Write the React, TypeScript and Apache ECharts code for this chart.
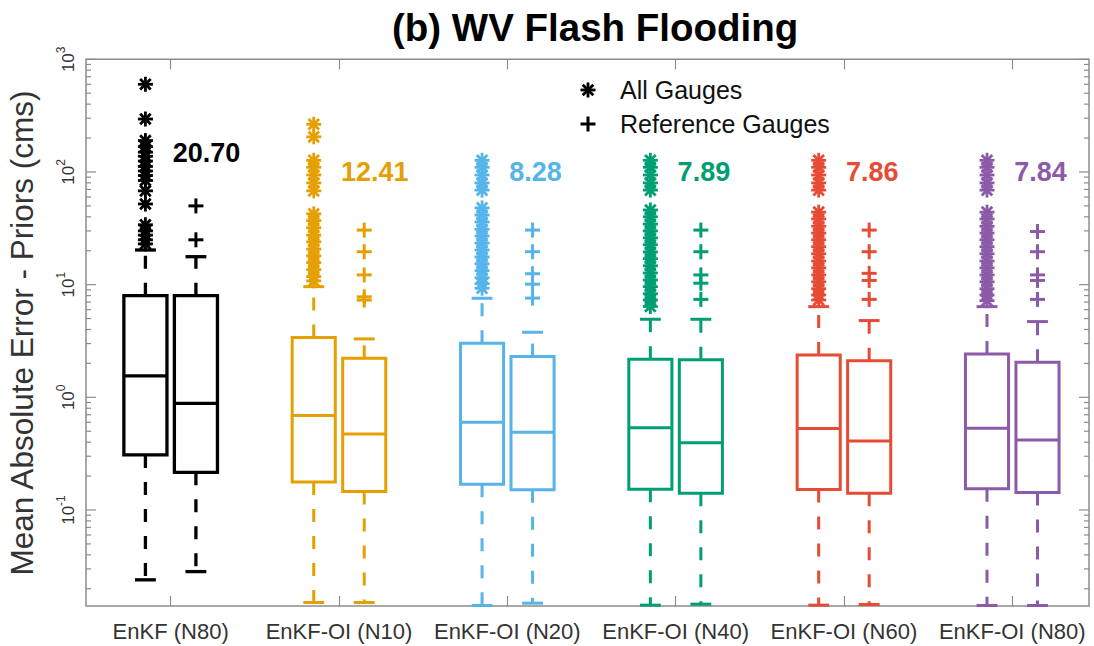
import React, { useEffect, useRef } from 'react';
import * as echarts from 'echarts';

// ---------------- data ----------------
const categories = ['EnKF (N80)', 'EnKF-OI (N10)', 'EnKF-OI (N20)', 'EnKF-OI (N40)', 'EnKF-OI (N60)', 'EnKF-OI (N80)'];
const groupColors = ['#000000', '#E69F00', '#56B4E9', '#009E73', '#E64B35', '#8B5AA8'];
const meanLabels = ['20.70', '12.41', '8.28', '7.89', '7.86', '7.84'];
const meanLabelY = [147, 100, 100, 100, 100, 100];

// [lower whisker, Q1, median, Q3, upper whisker]
const allGaugesBoxes = [
  [0.024, 0.308, 1.55, 7.98, 20.3],
  [0.0151, 0.177, 0.689, 3.39, 9.6],
  [0.0142, 0.169, 0.601, 3.02, 7.57],
  [0.0143, 0.153, 0.538, 2.18, 4.93],
  [0.0143, 0.152, 0.53, 2.38, 6.38],
  [0.0142, 0.154, 0.532, 2.43, 6.38],
];
const refGaugesBoxes = [
  [0.0284, 0.216, 0.885, 7.98, 17.7],
  [0.0151, 0.1456, 0.473, 2.22, 3.3],
  [0.0149, 0.151, 0.49, 2.3, 3.78],
  [0.0146, 0.141, 0.396, 2.15, 4.93],
  [0.0145, 0.141, 0.41, 2.11, 4.8],
  [0.0142, 0.143, 0.419, 2.05, 4.7],
];
const allGaugesOutliers = [
  [600, 295, 190, 168, 150, 138, 125, 112, 102, 93, 84, 68, 52, 34, 30, 27.5, 25, 23],
  [265, 205, 127, 110, 94, 80, 68, 42.5, 37, 32, 27.5, 24, 20.7, 18, 15.7, 13.6, 11.8, 10.8],
  [127, 110, 94, 80, 69, 48, 41.5, 36, 31, 27, 23.4, 20.3, 17.6, 15.3, 13.3, 11.5, 10.2, 9.3],
  [127, 110, 94, 80, 69, 46, 40, 34.5, 30, 26, 22.6, 19.5, 17, 14.7, 12.7, 11, 9.6, 8.3, 7.3, 6.4],
  [127, 110, 94, 80, 69, 44, 38.3, 33, 28.7, 25, 21.7, 18.8, 16.2, 14.1, 12.2, 10.6, 9.2, 8.1, 7.3],
  [127, 110, 94, 80, 69, 44, 38.3, 33, 28.7, 25, 21.7, 18.8, 16.2, 14.1, 12.2, 10.6, 9.2, 8.1, 7.2],
];
const refGaugesOutliers = [
  [50, 25],
  [30.5, 19.6, 12.2, 7.8, 7.3],
  [30.5, 19.6, 12.5, 10.1, 7.6],
  [30.5, 19.6, 12.2, 10.3, 7.4],
  [30.5, 19.6, 12.6, 10.9, 7.4],
  [29.6, 19.6, 12.2, 10.9, 7.4],
];
const yMajorExponents = [-1, 0, 1, 2, 3];
const yMinorMultipliers = [2, 3, 4, 5, 6, 7, 8, 9];
const yMinorExponents = [-2, -1, 0, 1, 2];
const legendNames = ['All Gauges', 'Reference Gauges'];
const titleText = '(b) WV Flash Flooding';
const yAxisTitle = 'Mean Absolute Error - Priors (cms)';

// ---------------- layout / style ----------------
const FONT = '"Liberation Sans", Arial, Helvetica, sans-serif';
const X_MIN = 0.497;
const X_MAX = 6.456;
const Y_MIN = 0.01406;
const Y_MAX = 1000;
const GROUP_OFFSET = 0.15;
const BOX_HALF = 0.128;
const CAP_HALF = 0.062;
const AXIS_COLOR = '#8c8c8c';
const TEXT_COLOR = '#333333';

function asterisk(cx: number, cy: number, r: number, color: string, lw: number) {
  const d = r * Math.SQRT1_2;
  const st = { stroke: color, lineWidth: lw, fill: 'none' };
  return {
    type: 'group',
    children: [
      { type: 'line', shape: { x1: cx - r, y1: cy, x2: cx + r, y2: cy }, style: st },
      { type: 'line', shape: { x1: cx, y1: cy - r, x2: cx, y2: cy + r }, style: st },
      { type: 'line', shape: { x1: cx - d, y1: cy - d, x2: cx + d, y2: cy + d }, style: st },
      { type: 'line', shape: { x1: cx - d, y1: cy + d, x2: cx + d, y2: cy - d }, style: st },
    ],
  };
}
function plus(cx: number, cy: number, r: number, color: string, lw: number) {
  const st = { stroke: color, lineWidth: lw, fill: 'none' };
  return {
    type: 'group',
    children: [
      { type: 'line', shape: { x1: cx - r, y1: cy, x2: cx + r, y2: cy }, style: st },
      { type: 'line', shape: { x1: cx, y1: cy - r, x2: cx, y2: cy + r }, style: st },
    ],
  };
}

function boxRender(params: any, api: any) {
  const x = api.value(0);
  const low = api.value(1), q1 = api.value(2), med = api.value(3), q3 = api.value(4), high = api.value(5);
  const gi = api.value(6);
  const color = groupColors[gi];
  const tl = api.coord([x - BOX_HALF, q3]);
  const br = api.coord([x + BOX_HALF, q1]);
  const cx = api.coord([x, q3])[0];
  const capL = api.coord([x - CAP_HALF, high])[0];
  const capR = api.coord([x + CAP_HALF, high])[0];
  const yMed = api.coord([x, med])[1];
  const yLow = api.coord([x, low])[1];
  const yHigh = api.coord([x, high])[1];
  const lw = gi === 0 ? 3.3 : 3;
  const st = { stroke: color, lineWidth: lw, fill: 'none' };
  const dash = { stroke: color, lineWidth: lw, fill: 'none', lineDash: [13, 14] };
  return {
    type: 'group',
    children: [
      { type: 'line', shape: { x1: cx, y1: tl[1], x2: cx, y2: yHigh }, style: dash },
      { type: 'line', shape: { x1: cx, y1: br[1], x2: cx, y2: yLow }, style: dash },
      { type: 'line', shape: { x1: capL, y1: yHigh, x2: capR, y2: yHigh }, style: st },
      { type: 'line', shape: { x1: capL, y1: yLow, x2: capR, y2: yLow }, style: st },
      { type: 'rect', shape: { x: tl[0], y: tl[1], width: br[0] - tl[0], height: br[1] - tl[1] }, style: st },
      { type: 'line', shape: { x1: tl[0], y1: yMed, x2: br[0], y2: yMed }, style: st },
    ],
  };
}

function starRender(params: any, api: any) {
  const p = api.coord([api.value(0), api.value(1)]);
  return asterisk(p[0], p[1], 7.5, groupColors[api.value(2)], 2.8);
}
function plusRender(params: any, api: any) {
  const p = api.coord([api.value(0), api.value(1)]);
  return plus(p[0], p[1], 7.5, groupColors[api.value(2)], 3);
}
function meanLabelRender(params: any, api: any) {
  const i = params.dataIndex;
  const p = api.coord([api.value(0), api.value(1)]);
  return {
    type: 'text',
    x: p[0] + 2,
    y: p[1],
    style: {
      text: meanLabels[i],
      fill: groupColors[i],
      font: `bold 27px ${FONT}`,
      align: 'left', textAlign: 'left',
      verticalAlign: 'middle', textVerticalAlign: 'middle',
    },
  };
}
function yTickRender(params: any, api: any) {
  const v = api.value(1);
  const major = api.value(2) === 1;
  const pl = api.coord([X_MIN, v]);
  const pr = api.coord([X_MAX, v]);
  const len = major ? 10 : 5;
  const st = { stroke: AXIS_COLOR, lineWidth: 1.2 };
  return {
    type: 'group',
    children: [
      { type: 'line', shape: { x1: pl[0], y1: pl[1], x2: pl[0] + len, y2: pl[1] }, style: st },
      { type: 'line', shape: { x1: pr[0] - len, y1: pr[1], x2: pr[0], y2: pr[1] }, style: st },
    ],
  };
}

function yLabelFormatter(v: number) {
  const lg = Math.log10(v);
  const e = Math.round(lg);
  if (Math.abs(lg - e) > 1e-6 || !yMajorExponents.includes(e)) return '';
  return `{b|10}{s|${e}}`;
}

export default function App() {
  const ref = useRef<HTMLDivElement>(null);
  useEffect(() => {
    if (!ref.current) return;
    const chart = echarts.init(ref.current, null, { renderer: 'svg' });

    const catPositions = categories.map((_, i) => i + 1);
    const allBoxData = allGaugesBoxes.map((b, i) => [i + 1 - GROUP_OFFSET, ...b, i]);
    const refBoxData = refGaugesBoxes.map((b, i) => [i + 1 + GROUP_OFFSET, ...b, i]);
    const allOutData: number[][] = [];
    allGaugesOutliers.forEach((arr, i) => arr.forEach((v) => allOutData.push([i + 1 - GROUP_OFFSET, v, i])));
    const refOutData: number[][] = [];
    refGaugesOutliers.forEach((arr, i) => arr.forEach((v) => refOutData.push([i + 1 + GROUP_OFFSET, v, i])));
    const labelData = meanLabelY.map((y, i) => [i + 1, y]);
    const tickData: number[][] = [];
    yMajorExponents.forEach((e) => tickData.push([X_MIN, Math.pow(10, e), 1]));
    yMinorExponents.forEach((e) =>
      yMinorMultipliers.forEach((m) => {
        const v = m * Math.pow(10, e);
        if (v > Y_MIN && v < Y_MAX) tickData.push([X_MIN, v, 0]);
      })
    );

    const xTick = {
      show: true,
      inside: true,
      length: 10,
      customValues: catPositions,
      lineStyle: { color: AXIS_COLOR, width: 1.2 },
    };

    const legendY = [90, 124];
    chart.setOption({
      animation: false,
      backgroundColor: '#ffffff',
      title: {
        text: titleText,
        left: 392,
        top: 8,
        padding: 0,
        textStyle: { fontSize: 38.5, fontWeight: 'bold', color: '#000', fontFamily: FONT },
      },
      grid: {
        left: 86,
        top: 59.3,
        width: 1003,
        height: 546.7,
        show: true,
        borderColor: AXIS_COLOR,
        borderWidth: 1.5,
        backgroundColor: 'transparent',
      },
      xAxis: [
        {
          type: 'value',
          position: 'bottom',
          min: X_MIN,
          max: X_MAX,
          splitLine: { show: false },
          axisLine: { show: false },
          axisTick: xTick,
          axisLabel: {
            customValues: catPositions,
            formatter: (v: number) => categories[Math.round(v) - 1] ?? '',
            fontSize: 22,
            color: TEXT_COLOR,
            fontFamily: FONT,
            margin: 14,
          },
        },
        {
          type: 'value',
          position: 'top',
          min: X_MIN,
          max: X_MAX,
          splitLine: { show: false },
          axisLine: { show: false },
          axisTick: xTick,
          axisLabel: { show: false },
        },
      ],
      yAxis: {
        type: 'log',
        logBase: 10,
        min: Y_MIN,
        max: Y_MAX,
        splitNumber: 5,
        axisLine: { show: false },
        axisTick: { show: false },
        splitLine: { show: false },
        axisLabel: {
          show: true,
          rotate: 90,
          margin: 9,
          formatter: yLabelFormatter,
          rich: {
            b: { fontSize: 17, fontFamily: FONT, color: TEXT_COLOR, lineHeight: 22, verticalAlign: 'bottom' },
            s: { fontSize: 12, fontFamily: FONT, color: TEXT_COLOR, lineHeight: 12, verticalAlign: 'top' },
          },
        },
      },
      graphic: [
        {
          type: 'text',
          x: 22,
          y: 333,
          rotation: Math.PI / 2,
          style: {
            text: yAxisTitle,
            font: `31.5px ${FONT}`,
            fill: TEXT_COLOR,
            align: 'center', textAlign: 'center',
            verticalAlign: 'middle', textVerticalAlign: 'middle',
          },
        },
        asterisk(588, legendY[0], 7.5, '#000', 2.8),
        plus(588, legendY[1], 7.5, '#000', 3),
        {
          type: 'text',
          x: 620,
          y: legendY[0],
          style: {
            text: legendNames[0],
            font: `25px ${FONT}`,
            fill: '#111',
            align: 'left', textAlign: 'left',
            verticalAlign: 'middle', textVerticalAlign: 'middle',
          },
        },
        {
          type: 'text',
          x: 620,
          y: legendY[1],
          style: {
            text: legendNames[1],
            font: `25px ${FONT}`,
            fill: '#111',
            align: 'left', textAlign: 'left',
            verticalAlign: 'middle', textVerticalAlign: 'middle',
          },
        },
      ],
      series: [
        { type: 'custom', name: 'y ticks', renderItem: yTickRender, data: tickData, clip: false, encode: { x: 0, y: 1 }, silent: true },
        { type: 'custom', name: legendNames[0] + ' outliers', renderItem: starRender, data: allOutData, clip: false, encode: { x: 0, y: 1 } },
        { type: 'custom', name: legendNames[1] + ' outliers', renderItem: plusRender, data: refOutData, clip: false, encode: { x: 0, y: 1 } },
        { type: 'custom', name: legendNames[0], renderItem: boxRender, data: allBoxData, clip: false, encode: { x: 0, y: [1, 2, 3, 4, 5] } },
        { type: 'custom', name: legendNames[1], renderItem: boxRender, data: refBoxData, clip: false, encode: { x: 0, y: [1, 2, 3, 4, 5] } },
        { type: 'custom', name: 'mean labels', renderItem: meanLabelRender, data: labelData, clip: false, encode: { x: 0, y: 1 } },
      ],
    });

    return () => chart.dispose();
  }, []);
  return (
    <div
      ref={ref}
      style={{ position: 'fixed', left: 0, top: 0, width: 1094, height: 646, background: '#fff' }}
    />
  );
}
